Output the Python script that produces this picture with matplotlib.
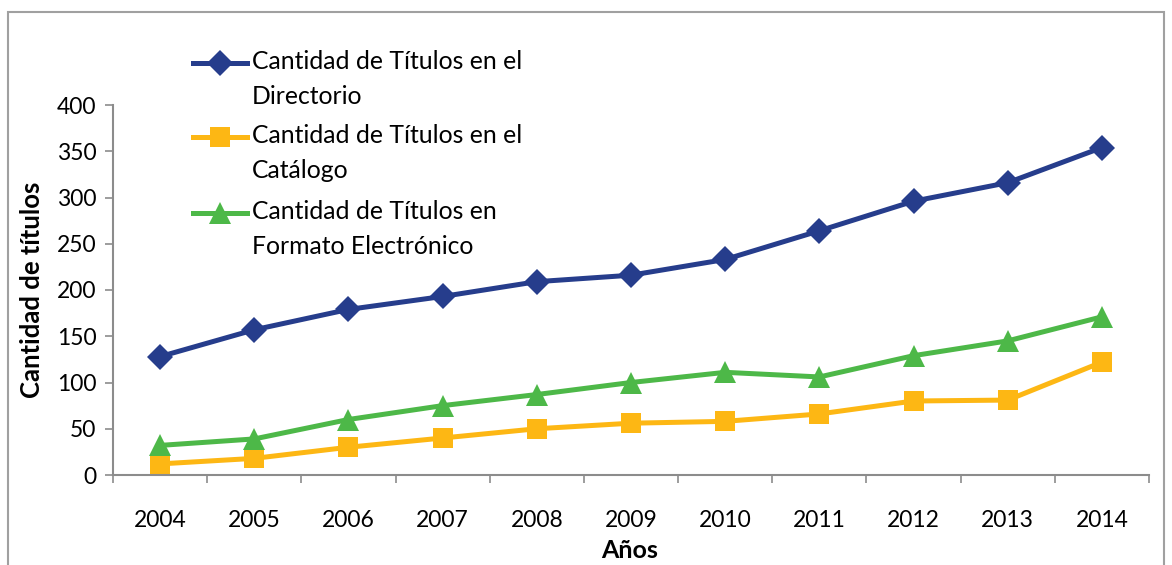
"""
Titulos por año: directorio, catálogo y formato electrónico (2004-2014).
"""

import matplotlib.pyplot as plt
from matplotlib.lines import Line2D
from matplotlib.patches import Rectangle

# Datos
years = ['2004', '2005', '2006', '2007', '2008', '2009',
         '2010', '2011', '2012', '2013', '2014']
directorio = [128, 157, 179, 193, 209, 216, 233, 264, 296, 316, 354]
catalogo = [12, 18, 30, 40, 50, 56, 58, 66, 80, 81, 122]
electronico = [32, 39, 60, 75, 87, 100, 111, 106, 129, 145, 171]

labels = ['Cantidad de Títulos en el\nDirectorio',
          'Cantidad de Títulos en el\nCatálogo',
          'Cantidad de Títulos en\nFormato Electrónico']

BLUE = '#263D8C'
ORANGE = '#FDB714'
GREEN = '#4DB848'
GRAY = '#8C8C8C'

plt.rcParams['font.family'] = ['Lato', 'DejaVu Sans']
FS = 16.5

W, H = 1172, 565
fig = plt.figure(figsize=(W / 100, H / 100), dpi=100)
ax = fig.add_axes([113 / W, 1 - 475 / H, (1149 - 113) / W, (475 - 105) / H])

x = list(range(len(years)))
series = [
    (directorio, BLUE, 'D', 13),
    (catalogo, ORANGE, 's', 14.5),
    (electronico, GREEN, '^', 16),
]
for vals, col, mk, ms in series:
    ax.plot(x, vals, color=col, lw=3.6, marker=mk, markersize=ms,
            markeredgewidth=0, clip_on=False)

ax.set_xlim(-0.5, len(years) - 0.5)
ax.set_ylim(0, 400)
ax.set_yticks(range(0, 401, 50))
ax.set_xticks(x)
ax.set_xticklabels(years)
ax.set_xticks([i - 0.5 for i in range(len(years) + 1)], minor=True)
ax.tick_params(axis='x', which='major', length=0, pad=25, labelsize=FS)
ax.tick_params(axis='x', which='minor', length=6, color=GRAY, width=1.2)
ax.tick_params(axis='y', length=6, color=GRAY, width=1.2, labelsize=FS, pad=6)

for s in ['top', 'right']:
    ax.spines[s].set_visible(False)
for s in ['left', 'bottom']:
    ax.spines[s].set_color(GRAY)
    ax.spines[s].set_linewidth(1.5)

fig.text(32 / W, 1 - 290 / H, 'Cantidad de títulos', rotation=90,
         fontsize=18.5, fontweight='bold', ha='center', va='center')
fig.text(630 / W, 1 - 551 / H, 'Años', fontsize=18, fontweight='bold',
         ha='center', va='center')

# Leyenda manual (la marca alineada con la primera línea del texto)
entry_y = [63, 137, 213]
for (vals, col, mk, ms), lab, yy in zip(series, labels, entry_y):
    yf = 1 - yy / H
    fig.add_artist(Line2D([193 / W, 247 / W], [yf, yf], color=col, lw=3.6,
                          transform=fig.transFigure))
    fig.add_artist(Line2D([220 / W], [yf], color=col, marker=mk,
                          markersize=ms, markeredgewidth=0,
                          transform=fig.transFigure))
    fig.text(252 / W, 1 - (yy - 13) / H, lab, fontsize=17.8, va='top',
             ha='left', linespacing=1.62)

# Borde del área del gráfico
fig.add_artist(Rectangle((8 / W, -0.05), (1164 - 8) / W, 1 - 12 / H + 0.05,
                         transform=fig.transFigure, fill=False,
                         edgecolor='#A0A0A0', lw=1.5))

fig.savefig('out.png', dpi=100)
